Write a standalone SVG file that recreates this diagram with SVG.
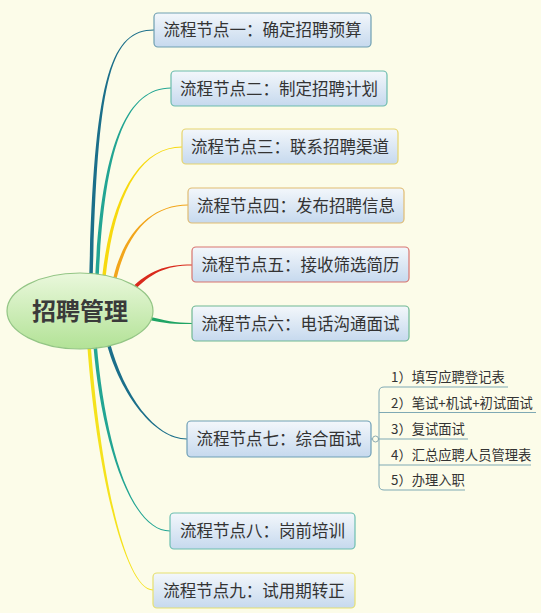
<svg xmlns="http://www.w3.org/2000/svg" width="541" height="613" viewBox="0 0 541 613">
<defs>
<linearGradient id="boxg" x1="0" y1="0" x2="0" y2="1">
<stop offset="0" stop-color="#f3f7fb"/>
<stop offset="1" stop-color="#c6d9ee"/>
</linearGradient>
<linearGradient id="rootg" x1="0" y1="0" x2="0" y2="1">
<stop offset="0" stop-color="#eaf8dc"/>
<stop offset="1" stop-color="#b2e296"/>
</linearGradient>
</defs>
<style>
.box{fill:url(#boxg);stroke-width:1.2}
.lbl{font-family:"Noto Sans CJK SC","Microsoft YaHei",sans-serif;font-size:16.5px;fill:#333;text-anchor:middle}
.sub{font-family:"Noto Sans CJK SC","Microsoft YaHei",sans-serif;font-size:13.3px;fill:#333}
.ul{fill:none;stroke:#7fa9b4;stroke-width:1}
</style>
<rect width="541" height="613" fill="#fcfce9"/>
<g id="connectors">
<path fill="#1b6f8a" d="M92.75,276 C97.75,80 110,30.5 154,30.5 L154,29.5 C110,29.5 94.25,80 89.25,276 Z"/>
<path fill="#22a593" d="M98.75,276 C104.75,150 125,88.5 171,88.5 L171,87.5 C125,87.5 101.25,150 95.25,276 Z"/>
<path fill="#f7d90f" d="M105.75,276 C114.75,195 140,147.5 182,147.5 L182,146.5 C140,146.5 111.25,195 102.25,276 Z"/>
<path fill="#f2a51a" d="M116.75,278 C126.75,235 150,205.5 188,205.5 L188,204.5 C150,204.5 123.25,235 113.25,278 Z"/>
<path fill="#d92a1c" d="M133.3,291.2 C151.3,273.2 165,265.5 192,265.5 L192,264.5 C165,264.5 148.7,270.8 130.7,288.8 Z"/>
<path fill="#1fa464" d="M148,319.75 C165,323.75 175,324 192,324 L192,323 C175,323 165,320.25 148,316.25 Z"/>
<path fill="#1b6f8a" d="M109.75,342 C123.75,395 155,438.5 187,438.5 L187,439.5 C155,439.5 120.25,395 106.25,342 Z"/>
<path fill="#22a593" d="M96.75,344 C104.75,440 130,530.5 170,530.5 L170,531.5 C130,531.5 101.25,440 93.25,344 Z"/>
<path fill="#f5e21c" d="M90.75,345 C99.75,470 125,589.5 153,589.5 L153,590.5 C125,590.5 96.25,470 87.25,345 Z"/>
<path fill="none" stroke="#7fa9b4" stroke-width="1" d="M371,439 L379,439"/>
</g>
<g id="root">
<ellipse cx="80" cy="311" rx="73" ry="38" fill="url(#rootg)" stroke="#93c585" stroke-width="1.2"/>
<text x="80" y="320" font-family="Noto Sans CJK SC,Microsoft YaHei,sans-serif" font-size="24" font-weight="bold" fill="#3a3a3a" text-anchor="middle">招聘管理</text>
</g>
<g id="n1"><rect class="box" x="154" y="13" width="217" height="34" rx="4" stroke="#6e9fb1"/><text class="lbl" x="262.5" y="36">流程节点一：确定招聘预算</text></g>
<g id="n2"><rect class="box" x="171" y="71" width="216" height="35" rx="4" stroke="#6cbcae"/><text class="lbl" x="279" y="94.5">流程节点二：制定招聘计划</text></g>
<g id="n3"><rect class="box" x="182" y="129" width="216" height="35" rx="4" stroke="#e6d46e"/><text class="lbl" x="290" y="152.5">流程节点三：联系招聘渠道</text></g>
<g id="n4"><rect class="box" x="188" y="188" width="216" height="35" rx="4" stroke="#dfbb72"/><text class="lbl" x="296" y="211.5">流程节点四：发布招聘信息</text></g>
<g id="n5"><rect class="box" x="192" y="247" width="217" height="35" rx="4" stroke="#d77470"/><text class="lbl" x="300.5" y="270.5">流程节点五：接收筛选简历</text></g>
<g id="n6"><rect class="box" x="192" y="306" width="217" height="35" rx="4" stroke="#6fb893"/><text class="lbl" x="300.5" y="329.5">流程节点六：电话沟通面试</text></g>
<g id="n7"><rect class="box" x="187" y="421" width="184" height="36" rx="4" stroke="#6e9fb6"/><text class="lbl" x="279" y="445">流程节点七：综合面试</text>
<circle cx="375.5" cy="439" r="3" fill="#fcfce9" stroke="#8aa9b0" stroke-width="1"/></g>
<g id="n8"><rect class="box" x="170" y="513" width="185" height="36" rx="4" stroke="#6cbeb0"/><text class="lbl" x="262.5" y="537">流程节点八：岗前培训</text></g>
<g id="n9"><rect class="box" x="153" y="573" width="202" height="35" rx="4" stroke="#e6e070"/><text class="lbl" x="254" y="596.5">流程节点九：试用期转正</text></g>
<g id="n7-items">
<path class="ul" d="M508,387 L384,387 Q379,387 379,392 L379,485 Q379,490 384,490 L465,490"/>
<path class="ul" d="M379,412.5 L536,412.5"/>
<path class="ul" d="M379,439 L468,439"/>
<path class="ul" d="M379,465 L531,465"/>
<text class="sub" x="391" y="382">1）填写应聘登记表</text>
<text class="sub" x="391" y="407.5">2）笔试+机试+初试面试</text>
<text class="sub" x="391" y="434">3）复试面试</text>
<text class="sub" x="391" y="460">4）汇总应聘人员管理表</text>
<text class="sub" x="391" y="485">5）办理入职</text>
</g>
</svg>
